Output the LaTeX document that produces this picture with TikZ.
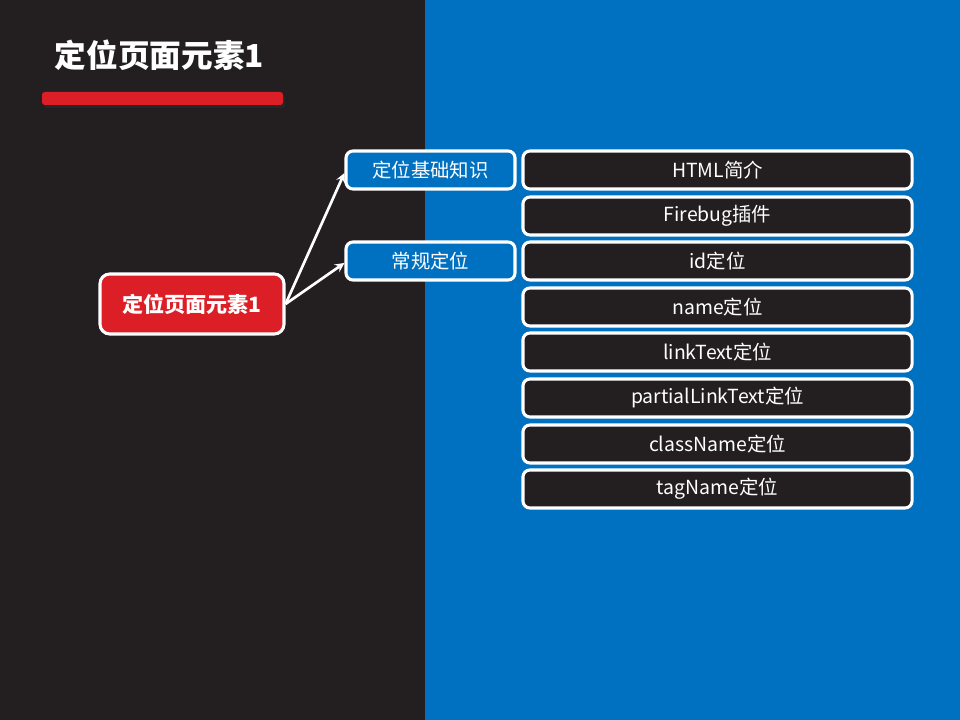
\documentclass[tikz,border=0pt]{standalone}
\usepackage{fontspec}
\setmainfont{Noto Sans CJK SC}
\usetikzlibrary{calc}

\definecolor{darkbg}{HTML}{231F20}
\definecolor{bluebg}{HTML}{0070C0}
\definecolor{redmark}{HTML}{DC1E26}

\begin{document}
\begin{tikzpicture}[x=0.025cm, y=-0.025cm,
  box/.style={draw=white, line width=2.2pt, rounded corners=5pt, text=white,
    minimum height=0.95cm, inner sep=0pt, font=\fontsize{13.8}{16}\selectfont},
  leafbox/.style={box, fill=darkbg, minimum width=9.725cm},
  topicbox/.style={box, fill=bluebg, minimum width=4.225cm},
  rootbox/.style={box, fill=redmark, minimum width=4.6cm, minimum height=1.5cm,
    rounded corners=7pt, font=\fontsize{15}{18}\selectfont\bfseries},
  link/.style={draw=white, line width=1.9pt, -stealth}]

% Background halves
\useasboundingbox (0,0) rectangle (960,720);
\fill[darkbg] (0,0) rectangle (425,720);
\fill[bluebg] (425,0) rectangle (960,720);

% Title and red bar with shadow
\node[anchor=west, text=white, font=\fontsize{22.5}{27}\selectfont\bfseries] (title) at (50,55) {定位页面元素1};
\fill[black!85, rounded corners=2pt] (44,95) rectangle (285,108);
\fill[redmark, rounded corners=2pt] (42,92) rectangle (283,105);

% Root node
\node[rootbox] (root) at (192,304) {定位页面元素1};

% Topic nodes
\node[topicbox] (basic) at (430.5,170) {定位基础知识};
\node[topicbox] (usual) at (430.5,261) {常规定位};

% Leaf nodes
\node[leafbox] (html) at (717.5,170) {HTML简介};
\node[leafbox] (firebug) at (717.5,216) {Firebug插件};
\node[leafbox] (byid) at (717.5,261) {id定位};
\node[leafbox] (byname) at (717.5,307) {name定位};
\node[leafbox] (bylink) at (717.5,352) {linkText定位};
\node[leafbox] (bypartial) at (717.5,398) {partialLinkText定位};
\node[leafbox] (byclass) at (717.5,444) {className定位};
\node[leafbox] (bytag) at (717.5,489) {tagName定位};

% Connectors
\draw[link] (root.east) -- ($(basic.west)+(0,3)$);
\draw[link] (root.east) -- ($(usual.west)+(0,2)$);

\end{tikzpicture}
\end{document}
